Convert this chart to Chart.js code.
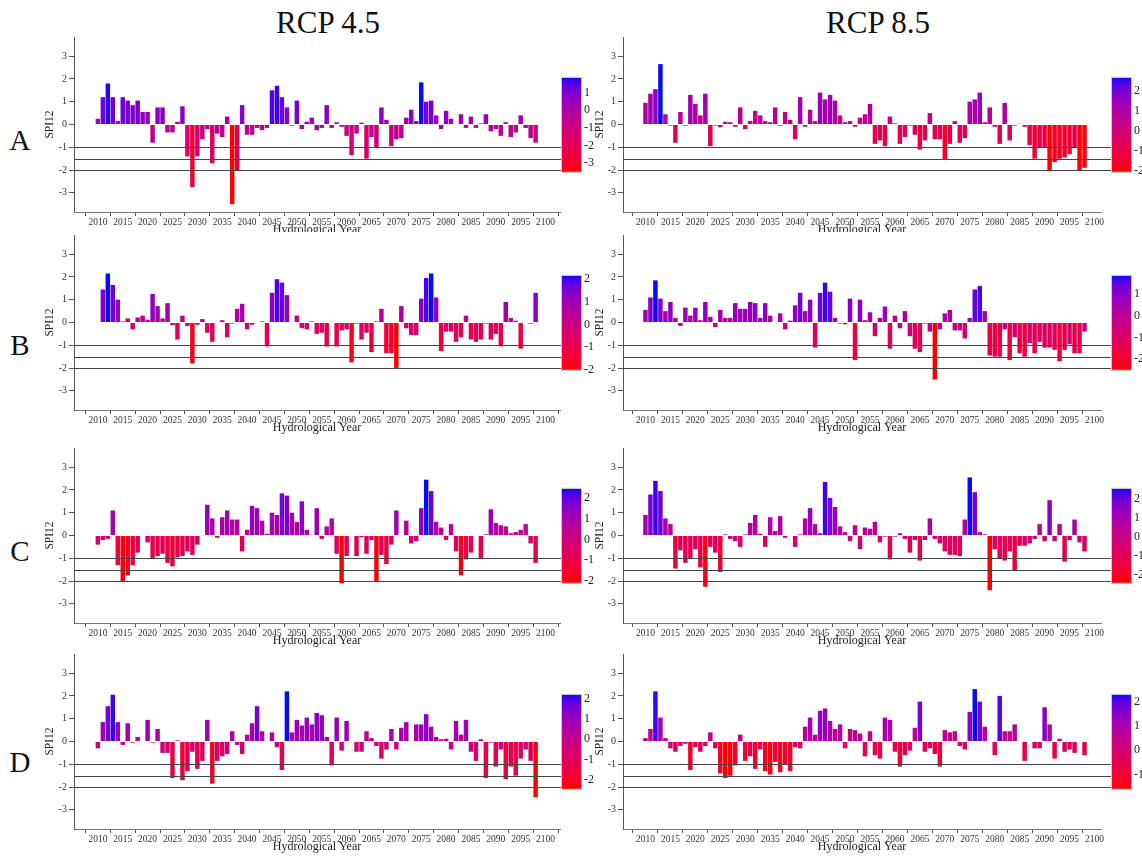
<!DOCTYPE html>
<html>
<head>
<meta charset="utf-8">
<script src="https://cdn.jsdelivr.net/npm/chart.js@4.4.0/dist/chart.umd.min.js"></script>
<style>
  body { margin: 0; background: #fff; }
  #page { position: relative; width: 1142px; height: 857px; overflow: hidden; background: #fff;
          font-family: "Liberation Serif", "Times New Roman", serif; color: #111; }
  #page canvas { position: absolute; }
  .title { position: absolute; font-size: 31px; transform: translate(-50%, -50%); white-space: nowrap; }
  .row { position: absolute; font-size: 29px; transform: translate(-50%, -50%); }
</style>
</head>
<body>
<div id="page">
  <div class="title" style="left:328px; top:23px">RCP 4.5</div>
  <div class="title" style="left:878px; top:23px">RCP 8.5</div>
  <div class="row" style="left:20px; top:140px">A</div>
  <div class="row" style="left:20px; top:345px">B</div>
  <div class="row" style="left:20px; top:551px">C</div>
  <div class="row" style="left:20px; top:762px">D</div>
</div>
<script>
// ===== Data (SPI12 by hydrological year) =====
const years = [
  2010, 2011, 2012, 2013, 2014, 2015, 2016, 2017, 2018, 2019,
  2020, 2021, 2022, 2023, 2024, 2025, 2026, 2027, 2028, 2029,
  2030, 2031, 2032, 2033, 2034, 2035, 2036, 2037, 2038, 2039,
  2040, 2041, 2042, 2043, 2044, 2045, 2046, 2047, 2048, 2049,
  2050, 2051, 2052, 2053, 2054, 2055, 2056, 2057, 2058, 2059,
  2060, 2061, 2062, 2063, 2064, 2065, 2066, 2067, 2068, 2069,
  2070, 2071, 2072, 2073, 2074, 2075, 2076, 2077, 2078, 2079,
  2080, 2081, 2082, 2083, 2084, 2085, 2086, 2087, 2088, 2089,
  2090, 2091, 2092, 2093, 2094, 2095, 2096, 2097, 2098
];
const xTicks = [2010, 2015, 2020, 2025, 2030, 2035, 2040, 2045, 2050, 2055,
                2060, 2065, 2070, 2075, 2080, 2085, 2090, 2095, 2100];
const yTicks = [-3, -2, -1, 0, 1, 2, 3];
const thresholds = [-1, -1.5, -2];

const rcp45A = [
  0.25, 1.2, 1.8, 1.2, 0.15, 1.2, 1.05, 0.85, 1.05, 0.55,
  0.55, -0.8, 0.75, 0.75, -0.35, -0.35, 0.12, 0.8, -1.4, -2.75,
  -1.4, -0.65, -0.2, -1.7, -0.4, -0.55, 0.35, -3.5, -2.0, 0.85,
  -0.45, -0.45, -0.15, -0.25, -0.15, 1.5, 1.7, 1.2, 0.75, -0.05,
  1.05, -0.2, 0.12, 0.3, -0.25, -0.15, 0.85, -0.15, 0.1, -0.1,
  -0.5, -1.35, -0.4, 0.08, -1.5, -0.55, -1.0, 0.75, 0.2, -0.95,
  -0.65, -0.6, 0.3, 0.65, 0.15, 1.85, 1.0, 1.05, 0.4, -0.2,
  0.6, 0.25, -0.02, 0.45, -0.15, 0.35, -0.15, 0.05, 0.45, -0.3,
  -0.2, -0.5, 0.1, -0.55, -0.35, 0.4, -0.15, -0.6, -0.8
];
const rcp85A = [
  0.95, 1.35, 1.55, 2.65, 0.45, -0.05, -0.8, 0.55, -0.05, 1.3,
  0.9, 0.4, 1.35, -0.95, -0.05, -0.12, 0.12, 0.1, -0.1, 0.75,
  -0.2, 0.15, 0.6, 0.4, 0.15, 0.1, 0.75, -0.05, 0.55, 0.2,
  -0.65, 1.2, -0.1, 0.65, 0.15, 1.4, 1.1, 1.3, 1.05, 0.4,
  0.1, 0.15, -0.1, 0.3, 0.45, 0.9, -0.85, -0.7, -0.95, 0.35,
  0.05, -0.85, -0.55, -0.05, -0.45, -1.1, -0.7, 0.5, -0.65, -0.65,
  -1.55, -0.85, 0.15, -0.8, -0.6, 1.0, 1.1, 1.4, 0.1, 0.75,
  -0.1, -0.85, 0.95, -0.7, -0.05, 0.03, -0.1, -0.9, -1.5, -1.0,
  -1.0, -2.05, -1.65, -1.5, -1.45, -1.3, -1.0, -2.0, -1.9
];
const rcp45B = [
  -0.02, 1.45, 2.15, 1.65, 1.0, 0.05, 0.18, -0.3, 0.22, 0.3,
  0.12, 1.25, 0.72, 0.18, 0.85, -0.12, -0.75, 0.3, -0.15, -1.8,
  -0.1, 0.15, -0.45, -0.85, 0.02, 0.1, -0.65, -0.05, 0.6, 0.82,
  -0.3, -0.1, 0.02, 0.05, -1.05, 1.3, 1.9, 1.75, 1.2, 0.02,
  0.3, -0.25, -0.3, 0.05, -0.5, -0.45, -1.05, 0.03, -1.05, -0.35,
  -0.3, -1.75, -0.05, -0.75, -0.45, -1.3, 0.05, 0.6, -1.35, -1.35,
  -2.0, 0.72, -0.25, -0.55, -0.55, 1.05, 1.95, 2.15, 1.1, -1.25,
  -0.4, -0.4, -0.85, -0.65, 0.3, -0.75, -0.85, -0.75, -0.05, -0.75,
  -0.5, -1.05, 0.9, 0.2, 0.08, -1.15, 0.02, -0.05, 1.3
];
const rcp85B = [
  0.55, 1.1, 1.85, 1.05, 0.5, 0.9, 0.2, -0.15, 0.65, 0.3,
  0.65, 0.1, 0.9, 0.25, -0.2, 0.55, 0.2, 0.2, 0.85, 0.6,
  0.6, 0.9, 0.85, 0.2, 0.85, 0.3, 0.02, 0.4, -0.3, 0.08,
  0.75, 1.3, 0.5, 1.0, -1.1, 1.3, 1.75, 1.35, 0.2, -0.05,
  -0.08, 1.05, -1.65, 1.0, 0.1, 0.45, -0.6, 0.2, 0.7, -1.15,
  0.3, -0.25, 0.5, -0.6, -1.15, -1.3, -0.05, -0.4, -2.5, -0.3,
  0.4, 0.55, -0.35, -0.35, -0.7, 0.2, 1.45, 1.6, 0.5, -1.45,
  -1.5, -1.5, -0.3, -1.65, -0.65, -1.35, -1.5, -0.9, -1.35, -0.85,
  -1.1, -1.1, -1.2, -1.7, -1.2, -0.95, -1.35, -1.35, -0.4
];
const rcp45C = [
  -0.4, -0.2, -0.15, 1.1, -1.3, -2.0, -1.75, -1.3, -0.75, -0.02,
  -0.3, -1.0, -0.9, -0.8, -1.2, -1.35, -0.95, -0.9, -0.7, -0.85,
  -0.4, 0.0, 1.35, 0.75, -0.1, 0.8, 1.1, 0.7, 0.7, -0.7,
  0.25, 1.3, 1.2, 0.65, 0.08, 1.0, 0.9, 1.85, 1.75, 1.0,
  0.6, 1.5, 0.25, 0.03, 1.2, -0.15, 0.4, 0.75, -0.8, -2.1,
  -0.9, 0.02, -0.9, -0.08, -0.8, -0.2, -2.0, -0.85, -1.25, -0.4,
  1.1, 0.0, 0.65, -0.35, -0.25, 1.2, 2.45, 1.95, 0.6, 0.35,
  -0.2, 0.5, -0.7, -1.75, -1.05, -0.75, 0.0, -1.0, 0.05, 1.15,
  0.55, 0.45, 0.4, 0.1, 0.15, 0.25, 0.5, -0.35, -1.2
];
const rcp85C = [
  0.9, 1.8, 2.4, 1.95, 0.75, 0.5, -1.45, -0.65, -1.2, -1.0,
  -0.6, -1.4, -2.25, -0.5, -0.75, -1.6, 0.05, -0.15, -0.25, -0.5,
  0.05, 0.55, 0.9, 0.08, -0.5, 0.8, 0.2, 0.85, -0.1, 0.0,
  -0.5, 0.05, 0.75, 1.2, 0.5, 0.1, 2.35, 1.65, 1.25, 0.4,
  0.15, -0.25, 0.45, -0.6, 0.35, 0.3, 0.6, -0.3, -0.05, -1.05,
  -0.05, 0.1, -0.15, -0.75, -0.2, -1.1, -0.2, 0.75, -0.15, -0.35,
  -0.7, -0.85, -0.85, -0.9, 0.7, 2.55, 1.9, 0.15, 0.05, -2.4,
  -0.6, -1.0, -1.1, -0.7, -1.55, -0.45, -0.45, -0.35, -0.15, 0.5,
  -0.25, 1.55, -0.25, 0.5, -1.15, -0.2, 0.7, -0.3, -0.7
];
const rcp45D = [
  -0.3, 0.85, 1.55, 2.05, 0.85, -0.15, 0.8, -0.05, 0.2, -0.02,
  0.95, -0.05, 0.55, -0.5, -0.5, -1.6, 0.05, -1.7, -1.3, -0.45,
  -1.2, -0.85, 0.95, -1.85, -0.85, -0.65, -0.55, 0.45, -0.15, -0.55,
  0.3, 0.8, 1.55, 0.45, 0.02, 0.4, -0.25, -1.25, 2.2, 0.4,
  0.95, 0.7, 1.05, 0.75, 1.25, 1.15, 0.2, -1.05, 1.05, -0.4,
  0.9, 0.02, -0.45, -0.45, 0.45, 0.15, -0.2, -0.75, -0.35, 0.55,
  -0.35, 0.6, 0.85, 0.02, 0.75, 0.75, 1.2, 0.65, 0.2, 0.1,
  0.12, -0.35, 0.9, 0.3, 0.95, -0.45, -0.85, 0.1, -1.6, -0.05,
  -1.1, -0.35, -1.65, -1.1, -1.5, -0.75, -0.35, -0.85, -2.45
];
const rcp85D = [
  0.15, 0.55, 2.2, 1.05, 0.15, -0.3, -0.45, -0.2, -0.1, -1.25,
  -0.25, -0.45, -0.2, 0.4, -0.3, -1.4, -1.6, -1.5, -1.05, 0.3,
  -0.85, -0.65, -1.2, -0.35, -1.3, -1.45, -0.9, -1.35, -1.0, -1.3,
  -0.25, -0.3, 0.65, 1.05, 0.3, 1.35, 1.45, 0.9, 0.55, 0.75,
  -0.3, 0.55, 0.5, 0.35, -0.65, 0.45, -0.6, -0.75, 1.05, 0.95,
  -0.45, -1.1, -0.6, -0.4, 0.6, 1.75, -0.45, -0.3, -0.55, -1.1,
  0.5, 0.4, 0.45, -0.2, -0.35, 1.3, 2.3, 1.75, 0.65, 0.0,
  -0.6, 2.0, 0.45, 0.45, 0.75, -0.02, -0.85, 0.0, -0.3, -0.3,
  1.5, 0.75, -0.75, 0.12, -0.45, -0.35, -0.5, 0.02, -0.6
];

// ===== Colour ramp: red -> blue interpolated in CIE Lab =====
function toLinear(c) { c /= 255; return c <= 0.04045 ? c / 12.92 : Math.pow((c + 0.055) / 1.055, 2.4); }
function fromLinear(c) {
  const v = c <= 0.0031308 ? 12.92 * c : 1.055 * Math.pow(c, 1 / 2.4) - 0.055;
  return Math.round(Math.max(0, Math.min(1, v)) * 255);
}
function rgbToLab(rgb) {
  const [r, g, b] = rgb.map(toLinear);
  const x = (0.4124 * r + 0.3576 * g + 0.1805 * b) / 0.95047;
  const y = 0.2126 * r + 0.7152 * g + 0.0722 * b;
  const z = (0.0193 * r + 0.1192 * g + 0.9505 * b) / 1.08883;
  const f = t => t > 0.008856 ? Math.cbrt(t) : 7.787 * t + 16 / 116;
  return [116 * f(y) - 16, 500 * (f(x) - f(y)), 200 * (f(y) - f(z))];
}
function labToRgb(lab) {
  const fy = (lab[0] + 16) / 116, fx = lab[1] / 500 + fy, fz = fy - lab[2] / 200;
  const inv = t => t * t * t > 0.008856 ? t * t * t : (t - 16 / 116) / 7.787;
  const x = inv(fx) * 0.95047, y = inv(fy), z = inv(fz) * 1.08883;
  return [
    fromLinear(3.2406 * x - 1.5372 * y - 0.4986 * z),
    fromLinear(-0.9689 * x + 1.8758 * y + 0.0415 * z),
    fromLinear(0.0557 * x - 0.2040 * y + 1.0570 * z)
  ];
}
const labLow = rgbToLab([255, 0, 0]);
const labHigh = rgbToLab([10, 10, 245]);
function rampColor(t) {
  const lab = labLow.map((v, i) => v + (labHigh[i] - v) * t);
  const [r, g, b] = labToRgb(lab);
  return `rgb(${r},${g},${b})`;
}

// ===== Layout =====
const SERIF = '"Liberation Serif", "Times New Roman", serif';
Chart.defaults.font.family = SERIF;

const sides = {
  left:  { x: 0,   width: 600, axisW: 44, padL: 30, padR: 40, cbGap: 2,  titleX: 50, xMin: 2005.2, xMax: 2102.9 },
  right: { x: 590, width: 552, axisW: 33, padL: 0,  padR: 41, cbGap: 11, titleX: 10, xMin: 2005.5, xMax: 2101.3 }
};
const plotTops = [35, 233, 446, 652];
const PLOT_H = 177;

const panels = [
  { values: rcp45A, side: 'left',  row: 0 }, { values: rcp85A, side: 'right', row: 0 },
  { values: rcp45B, side: 'left',  row: 1 }, { values: rcp85B, side: 'right', row: 1 },
  { values: rcp45C, side: 'left',  row: 2 }, { values: rcp85C, side: 'right', row: 2 },
  { values: rcp45D, side: 'left',  row: 3 }, { values: rcp85D, side: 'right', row: 3 }
];

// thresholds, colour bar and axis titles
const decor = {
  id: 'decor',
  afterDatasetsDraw(chart, args, o) {
    const { ctx, chartArea: a, scales: { y } } = chart;
    ctx.save();
    ctx.strokeStyle = '#444';
    ctx.lineWidth = 1.1;
    thresholds.forEach(t => {
      const py = Math.round(y.getPixelForValue(t)) + 0.5;
      ctx.beginPath();
      ctx.moveTo(a.left, py);
      ctx.lineTo(a.right + o.cbGap, py);
      ctx.stroke();
    });
    ctx.restore();
  },
  afterDraw(chart, args, o) {
    const { ctx, chartArea: a, scales: { y } } = chart;
    const x0 = a.right + o.cbGap, w = 19;
    const top = y.getPixelForValue(2.05), bot = y.getPixelForValue(-2.08);
    ctx.save();
    const grad = ctx.createLinearGradient(0, top, 0, bot);
    for (let i = 0; i <= 20; i++) grad.addColorStop(i / 20, rampColor(1 - i / 20));
    ctx.fillStyle = grad;
    ctx.fillRect(x0, top, w, bot - top);
    ctx.strokeStyle = '#c8c8c8';
    ctx.lineWidth = 1;
    ctx.strokeRect(x0 - 0.5, top - 0.5, w + 1, bot - top + 1);

    ctx.fillStyle = '#222';
    ctx.font = '12px ' + SERIF;
    ctx.textAlign = 'left';
    ctx.textBaseline = 'middle';
    for (let v = Math.ceil(o.min); v <= Math.floor(o.max); v++) {
      const py = top + (o.max - v) / (o.max - o.min) * (bot - top);
      ctx.fillText(String(v), x0 + w + 3, py);
    }

    ctx.font = '12px ' + SERIF;
    ctx.textAlign = 'center';
    ctx.fillText('Hydrological Year', (a.left + a.right) / 2, a.bottom + 18);

    ctx.translate(o.titleX, y.getPixelForValue(0));
    ctx.rotate(-Math.PI / 2);
    ctx.font = '11.5px ' + SERIF;
    ctx.fillText('SPI12', 0, 0);
    ctx.restore();
  }
};

const page = document.getElementById('page');

panels.forEach(p => {
  const g = sides[p.side];
  const plotTop = plotTops[p.row];
  const canvasTop = plotTop - 6;
  const isTop = p.row === 0;
  const height = isTop ? 232 - canvasTop : 6 + PLOT_H + 20 + 22;
  const padB = isTop ? 0 : 22;

  const canvas = document.createElement('canvas');
  canvas.width = g.width;
  canvas.height = height;
  canvas.style.left = g.x + 'px';
  canvas.style.top = canvasTop + 'px';
  page.appendChild(canvas);

  const vmin = Math.min(...p.values), vmax = Math.max(...p.values);
  const colors = p.values.map(v => rampColor((v - vmin) / (vmax - vmin)));

  new Chart(canvas.getContext('2d'), {
    type: 'bar',
    data: {
      datasets: [{
        data: years.map((yr, i) => ({ x: yr, y: p.values[i] })),
        backgroundColor: colors,
        borderWidth: 0,
        barPercentage: 0.9,
        categoryPercentage: 1
      }]
    },
    options: {
      responsive: false,
      animation: false,
      layout: { padding: { left: g.padL, right: g.padR, top: 6, bottom: padB } },
      plugins: {
        legend: { display: false },
        tooltip: { enabled: false },
        decor: { cbGap: g.cbGap, titleX: g.titleX, min: vmin, max: vmax }
      },
      scales: {
        x: {
          type: 'linear',
          min: g.xMin,
          max: g.xMax,
          offset: false,
          afterFit: s => { s.height = 20; },
          afterBuildTicks: s => { s.ticks = xTicks.map(v => ({ value: v })); },
          ticks: {
            color: '#333', font: { size: 9.5 }, padding: 1,
            maxRotation: 0, autoSkip: false, callback: v => String(v)
          },
          grid: { display: true, drawOnChartArea: false, drawTicks: true, tickLength: 4, color: '#555' },
          border: { display: true, color: '#777', width: 1 }
        },
        y: {
          min: -3.84,
          max: 3.84,
          afterFit: s => { s.width = g.axisW; },
          afterBuildTicks: s => { s.ticks = yTicks.map(v => ({ value: v })); },
          ticks: { color: '#333', font: { size: 10 }, padding: 2, callback: v => String(v) },
          grid: { display: true, drawOnChartArea: false, drawTicks: true, tickLength: 5, color: '#555' },
          border: { display: true, color: '#555', width: 1 }
        }
      }
    },
    plugins: [decor]
  });
});
</script>
</body>
</html>
